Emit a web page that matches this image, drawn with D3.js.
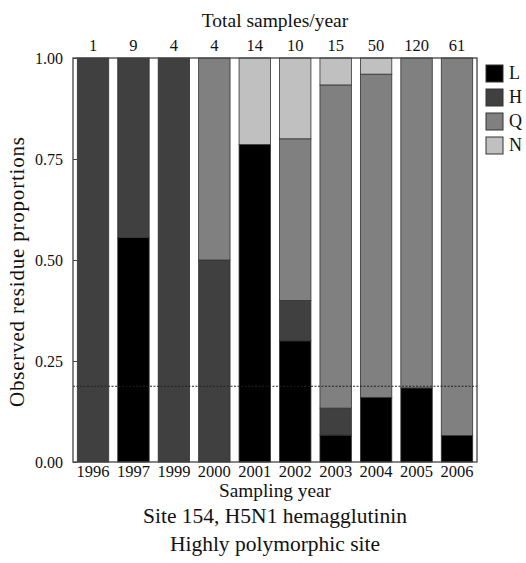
<!DOCTYPE html>
<html><head><meta charset="utf-8">
<script src="https://cdn.jsdelivr.net/npm/d3@7"></script>
<style>body{margin:0;background:#fff}svg{display:block}text{font-family:"Liberation Serif","Times New Roman",serif;fill:#111}</style>
</head><body>
<svg id="chart" width="526" height="563"></svg>
<script>
const years = ["1996","1997","1999","2000","2001","2002","2003","2004","2005","2006"];
const totals = [1, 9, 4, 4, 14, 10, 15, 50, 120, 61];
const residues = ["L","H","Q","N"];
const colors = ["#000000","#404040","#808080","#c0c0c0"];
// counts per residue per year
const countL = [0, 5, 0, 0, 11, 3, 1, 8, 22, 4];
const countH = [1, 4, 4, 2, 0, 1, 1, 0, 0, 0];
const countQ = [0, 0, 0, 2, 0, 4, 12, 40, 98, 57];
const countN = [0, 0, 0, 0, 3, 2, 1, 2, 0, 0];
const yTicks = [0, 0.25, 0.5, 0.75, 1];
const refLine = 54 / 288; // overall L proportion

const svg = d3.select("#chart");
const pL = 73, pR = 477, pT = 58, pB = 462;

const x = d3.scaleBand().domain(years).range([77.3, 472.7]).paddingInner(0.223).paddingOuter(0);
const y = d3.scaleLinear().domain([0, 1]).range([pB, pT]);

const rows = years.map((yr, i) => ({year: yr, L: countL[i]/totals[i], H: countH[i]/totals[i], Q: countQ[i]/totals[i], N: countN[i]/totals[i]}));
const stacked = d3.stack().keys(residues)(rows);

const g = svg.append("g");
stacked.forEach((layer, k) => {
  g.selectAll(null).data(layer.filter(d => d[1] - d[0] > 0)).enter().append("rect")
    .attr("x", d => x(d.data.year))
    .attr("width", x.bandwidth())
    .attr("y", d => y(d[1]))
    .attr("height", d => y(d[0]) - y(d[1]))
    .attr("fill", colors[k])
    .attr("stroke", "#333")
    .attr("stroke-width", 0.8);
});

// dashed reference line
svg.append("line").attr("x1", pL).attr("x2", pR).attr("y1", y(refLine)).attr("y2", y(refLine))
  .attr("stroke", "#222").attr("stroke-width", 1).attr("stroke-dasharray", "2,1.5");

// frame
svg.append("rect").attr("x", pL).attr("y", pT).attr("width", pR-pL).attr("height", pB-pT)
  .attr("fill", "none").attr("stroke", "#444").attr("stroke-width", 1.3);

// y axis
const yAxis = d3.axisLeft(y).tickValues(yTicks).tickFormat(d3.format(".2f")).tickSize(-4).tickPadding(10);
const ya = svg.append("g").attr("transform", `translate(${pL},0)`).call(yAxis);
ya.select(".domain").remove();
ya.selectAll("line").attr("stroke", "#444");
ya.selectAll("text").style("font-size", "16px").attr("fill", "#111");

// x axis bottom
const xAxis = d3.axisBottom(x).tickSize(0).tickPadding(3);
const xa = svg.append("g").attr("transform", `translate(0,${pB})`).call(xAxis);
xa.select(".domain").remove();
xa.selectAll("text").style("font-size", "16.5px").attr("fill", "#111");

// top axis with totals
const xTop = d3.scaleBand().domain(totals.map((t,i)=>i)).range(x.range()).paddingInner(0.223).paddingOuter(0);
const ta = svg.append("g").attr("transform", `translate(0,${pT})`).call(d3.axisTop(xTop).tickSize(0).tickPadding(7).tickFormat(i => totals[i]));
ta.select(".domain").remove();
ta.selectAll("text").style("font-size", "16.5px").attr("fill", "#111");

// titles
svg.append("text").attr("x", 275).attr("y", 27).attr("text-anchor", "middle").style("font-size", "19.5px").text("Total samples/year");
svg.append("text").attr("x", 275).attr("y", 497).attr("text-anchor", "middle").style("font-size", "19.3px").text("Sampling year");
svg.append("text").attr("x", 275).attr("y", 523).attr("text-anchor", "middle").style("font-size", "21.5px").text("Site 154, H5N1 hemagglutinin");
svg.append("text").attr("x", 275).attr("y", 551).attr("text-anchor", "middle").style("font-size", "21.5px").text("Highly polymorphic site");
svg.append("text").attr("transform", `translate(24,272) rotate(-90)`).attr("text-anchor", "middle")
  .attr("textLength", 270).attr("lengthAdjust", "spacing").style("font-size", "21px").text("Observed residue proportions");

// legend
const lg = svg.append("g").attr("transform", "translate(486,65)");
residues.forEach((r, i) => {
  lg.append("rect").attr("x", 0).attr("y", i*24).attr("width", 17).attr("height", 17).attr("fill", colors[i]).attr("stroke", "#333").attr("stroke-width", 1);
  lg.append("text").attr("x", 23).attr("y", i*24 + 14).style("font-size", "18px").text(r);
});
</script>
</body></html>
